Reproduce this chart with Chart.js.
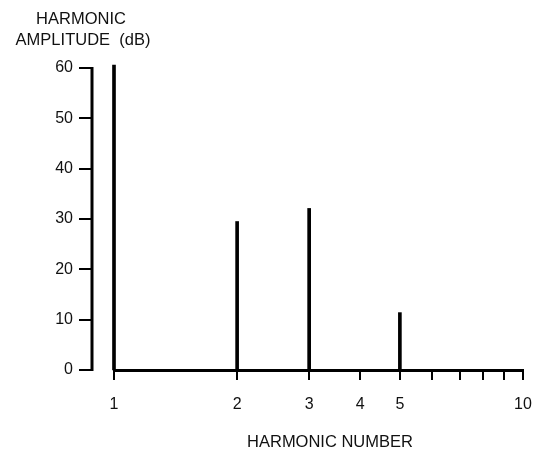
<!DOCTYPE html>
<html>
<head>
<meta charset="utf-8">
<script src="https://cdn.jsdelivr.net/npm/chart.js@4"></script>
<style>
  html, body { margin: 0; padding: 0; background: #fff; }
  #wrap { width: 535px; height: 451px; }
</style>
</head>
<body>
<div id="wrap"><canvas id="c" width="535" height="451"></canvas></div>
<script>
// ---- data ----
const harmonics = [1, 2, 3, 5];
const amplitudes = [60.6, 29.5, 32.1, 11.4];
const yTicks = [0, 10, 20, 30, 40, 50, 60];
const xTicks = [1, 2, 3, 4, 5, 6, 7, 8, 9, 10];
const xTickLabels = ['1', '2', '3', '4', '5', '', '', '', '', '10'];
const yTitleLines = ['HARMONIC', 'AMPLITUDE  (dB)'];
const xTitle = 'HARMONIC NUMBER';

const FONT = 'Liberation Sans, Arial, sans-serif';
const TEXT = '#111';

const axesPlugin = {
  id: 'axesPlugin',
  afterDraw(chart) {
    const ctx = chart.ctx;
    const y = chart.scales.y;
    const area = chart.chartArea;
    const ax = area.left - 22;
    const top = y.getPixelForValue(yTicks[yTicks.length - 1]);
    const bot = y.getPixelForValue(yTicks[0]);
    ctx.save();
    ctx.strokeStyle = '#000';
    ctx.lineWidth = 3;
    ctx.beginPath();
    ctx.moveTo(ax, top - 1);
    ctx.lineTo(ax, bot + 1);
    ctx.stroke();
    ctx.lineWidth = 2;
    yTicks.forEach(v => {
      const py = Math.round(y.getPixelForValue(v));
      ctx.beginPath();
      ctx.moveTo(ax - 13, py);
      ctx.lineTo(ax, py);
      ctx.stroke();
    });
    ctx.fillStyle = TEXT;
    ctx.font = '16.5px ' + FONT;
    ctx.textAlign = 'center';
    ctx.textBaseline = 'alphabetic';
    ctx.fillText(yTitleLines[0], 81, 24);
    ctx.fillText(yTitleLines[1], 83, 45);
    ctx.fillText(xTitle, 330, 447);
    ctx.restore();
  }
};

new Chart(document.getElementById('c'), {
  type: 'bar',
  data: {
    datasets: [{
      data: harmonics.map((h, i) => ({ x: h, y: amplitudes[i] })),
      backgroundColor: '#000',
      borderWidth: 0,
      barThickness: 3,
      clip: false
    }]
  },
  options: {
    responsive: false,
    animation: false,
    devicePixelRatio: 1,
    layout: { padding: { left: 0, top: 68, right: 12, bottom: 0 } },
    plugins: { legend: { display: false }, tooltip: { enabled: false }, title: { display: false } },
    scales: {
      x: {
        type: 'logarithmic',
        min: 1, max: 10,
        offset: false,
        afterBuildTicks: s => { s.ticks = xTicks.map(v => ({ value: v })); },
        afterFit: s => { s.height = 81; s.paddingLeft = 0; s.paddingRight = 0; },
        grid: { offset: false, drawOnChartArea: false, drawTicks: true, tickLength: 10, color: '#000', lineWidth: 2 },
        border: { display: true, color: '#000', width: 3 },
        ticks: {
          autoSkip: false, maxRotation: 0, padding: 15, color: TEXT,
          font: { family: FONT, size: 16 },
          callback: (v) => xTickLabels[xTicks.indexOf(v)]
        }
      },
      y: {
        min: 0, max: 60,
        afterBuildTicks: s => { s.ticks = yTicks.map(v => ({ value: v })); },
        afterFit: s => { s.width = 114; s.paddingTop = 0; s.paddingBottom = 0; },
        grid: { display: false, drawTicks: false },
        border: { display: false },
        ticks: { padding: 41, color: TEXT, font: { family: FONT, size: 16 } }
      }
    }
  },
  plugins: [axesPlugin]
});
</script>
</body>
</html>
